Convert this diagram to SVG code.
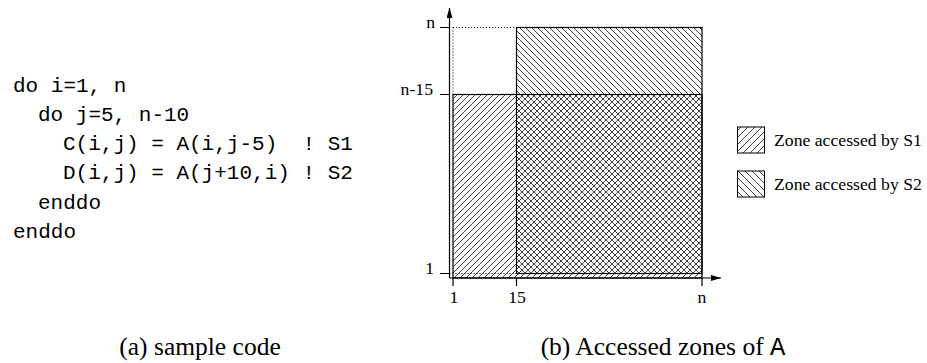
<svg xmlns="http://www.w3.org/2000/svg" width="927" height="363" viewBox="0 0 927 363">
<style>
.code{font-family:"Liberation Mono",monospace;font-size:21px;fill:#000;white-space:pre}
.lbl{font-family:"Liberation Serif",serif;font-size:17.7px;fill:#000}
.cap{font-family:"Liberation Serif",serif;font-size:25.5px;fill:#000}
.ln{stroke:#000;stroke-width:1.2;fill:none}
.dot{stroke:#000;stroke-width:1;stroke-dasharray:1 2;fill:none}
</style>
<defs>
<pattern id="h1" patternUnits="userSpaceOnUse" width="6" height="6">
<path d="M-1,1 L1,-1 M0,6 L6,0 M5,7 L7,5" stroke="#000" stroke-width="0.75"/>
</pattern>
<pattern id="h2" patternUnits="userSpaceOnUse" width="6" height="6">
<path d="M-1,5 L1,7 M0,0 L6,6 M5,-1 L7,1" stroke="#000" stroke-width="0.75"/>
</pattern>
<pattern id="l1" patternUnits="userSpaceOnUse" width="7" height="7">
<path d="M-1,1 L1,-1 M0,7 L7,0 M6,8 L8,6" stroke="#000" stroke-width="0.75"/>
</pattern>
<pattern id="l2" patternUnits="userSpaceOnUse" width="7" height="7">
<path d="M-1,6 L1,8 M0,0 L7,7 M6,-1 L8,1" stroke="#000" stroke-width="0.75"/>
</pattern>
<marker id="arr" viewBox="0 0 10 6" refX="10" refY="3" markerWidth="10" markerHeight="6" markerUnits="userSpaceOnUse" orient="auto">
<path d="M0,0 L10,3 L0,6 Z" fill="#000"/>
</marker>
</defs>

<g id="code">
<text class="code" x="13" y="91.5">do i=1, n</text>
<text class="code" x="38" y="120.8">do j=5, n-10</text>
<text class="code" x="63" y="150.1">C(i,j) = A(i,j-5)  ! S1</text>
<text class="code" x="63" y="179.4">D(i,j) = A(j+10,i) ! S2</text>
<text class="code" x="38" y="208.7">enddo</text>
<text class="code" x="13" y="238">enddo</text>
</g>

<g id="zone-s1">
<rect x="453" y="94.5" width="249" height="183.5" fill="url(#h1)" stroke="#000" stroke-width="1.2"/>
</g>
<g id="zone-s2">
<rect x="516.5" y="27.5" width="185.5" height="246" fill="url(#h2)" stroke="#000" stroke-width="1.2"/>
</g>

<g id="connectors">
<line class="ln" x1="449.5" y1="278" x2="449.5" y2="8" marker-end="url(#arr)"/>
<line class="ln" x1="449.5" y1="278" x2="721" y2="278" marker-end="url(#arr)"/>
<path class="ln" d="M440,27.5 H449.5 M440,94.5 H449.5 M440,273.5 H449.5 M453,278 V286 M516.5,278 V286 M702,278 V286"/>
<path class="dot" d="M453,27.5 H516.5 M453,27.5 V94.5 M449.5,273.5 H516.5"/>
</g>

<g id="axis-labels">
<text class="lbl" x="435" y="28" text-anchor="end">n</text>
<text class="lbl" x="433" y="95" text-anchor="end">n-15</text>
<text class="lbl" x="434" y="274" text-anchor="end">1</text>
<text class="lbl" x="454" y="303" text-anchor="middle">1</text>
<text class="lbl" x="517" y="303" text-anchor="middle">15</text>
<text class="lbl" x="702" y="303" text-anchor="middle">n</text>
</g>

<g id="legend-s1">
<rect x="737.5" y="127" width="27" height="26" fill="url(#l1)" stroke="#000" stroke-width="1"/>
<text class="lbl" x="774" y="146">Zone accessed by S1</text>
</g>
<g id="legend-s2">
<rect x="737.5" y="171" width="27" height="26" fill="url(#l2)" stroke="#000" stroke-width="1"/>
<text class="lbl" x="774" y="190">Zone accessed by S2</text>
</g>

<g id="captions">
<text class="cap" x="200" y="355" text-anchor="middle">(a) sample code</text>
<text class="cap" x="663" y="355" text-anchor="middle">(b) Accessed zones of <tspan font-family="Liberation Mono, monospace">A</tspan></text>
</g>
</svg>
